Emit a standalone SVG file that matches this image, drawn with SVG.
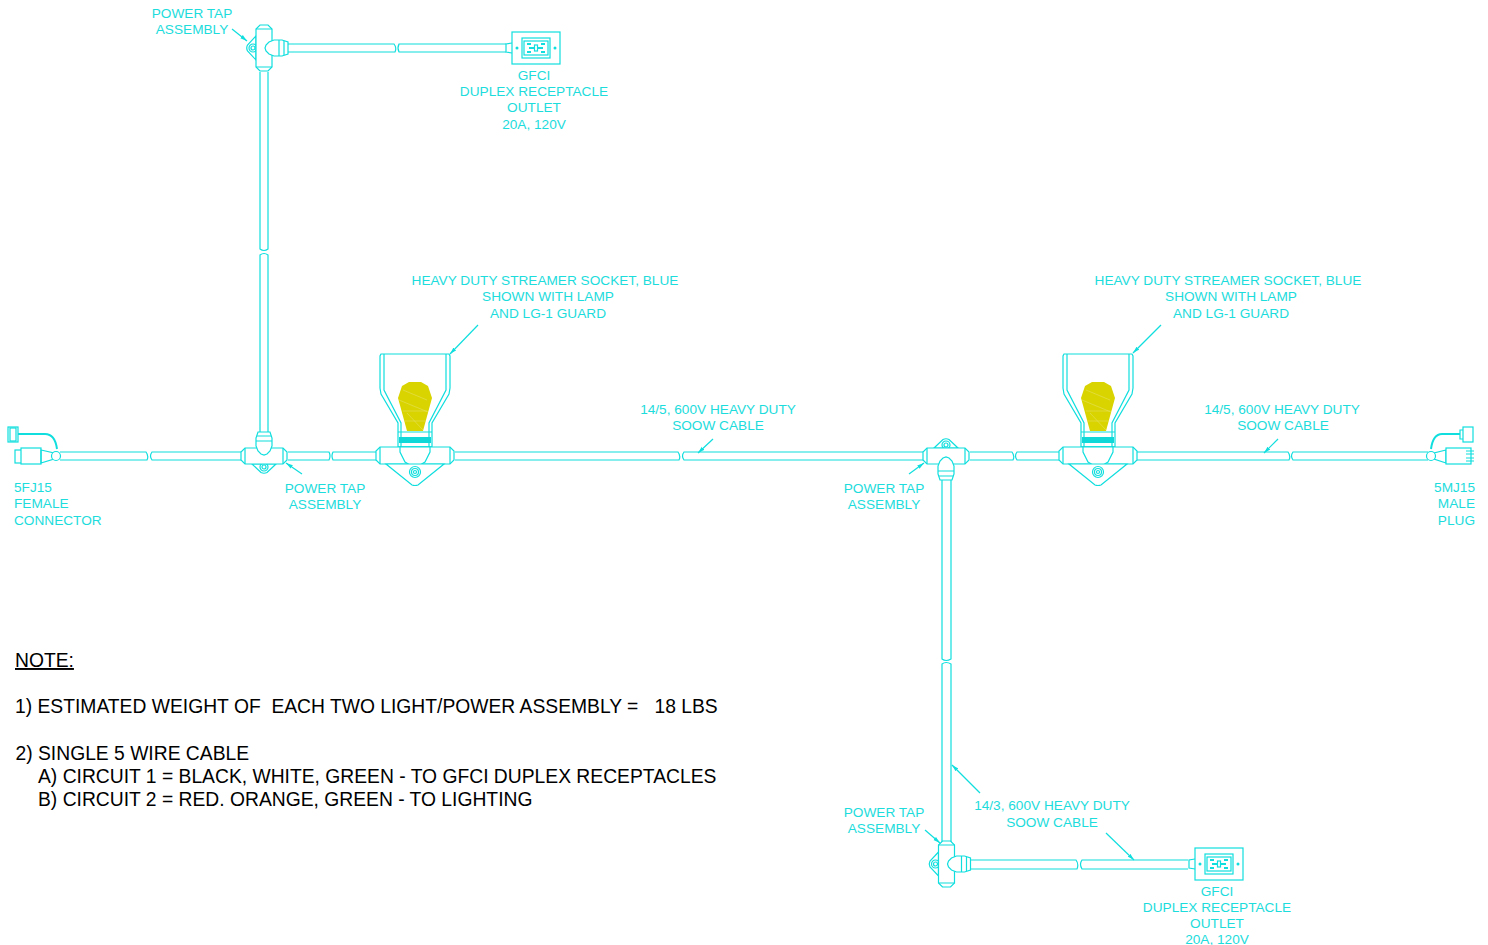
<svg xmlns="http://www.w3.org/2000/svg" width="1488" height="945" viewBox="0 0 1488 945">
<style>
.l{fill:none;stroke:#10dede;stroke-width:1.2}
.w{fill:#fff;stroke:#10dede;stroke-width:1.2}
.h{fill:none;stroke:#10dede;stroke-width:2}
.t{font-family:"Liberation Sans",Arial,sans-serif;font-size:13.65px;fill:#1cdcdc;text-anchor:middle}
.s{text-anchor:start}.e{text-anchor:end}
.n{font-family:"Liberation Sans",Arial,sans-serif;font-size:19.3px;fill:#000;white-space:pre}
</style>
<defs>
<marker id="a" markerWidth="8" markerHeight="6" refX="7" refY="3" orient="auto" markerUnits="userSpaceOnUse"><path d="M0 1L7 3L0 5z" fill="#10dede"/></marker>
<g id="tap">
<path class="w" d="M-12 8L-3 16.500Q0 18 3 16.500L12 8z"/>
<circle class="l" cx="0" cy="11" r="4"/><circle class="l" cx="0" cy="11" r="2"/>
<path class="w" d="M-19 -8H19L23 -4V4L19 8H-19L-23 4V-4z"/>
<path class="l" d="M-19 -8V8M19 -8V8"/>
<path class="w" d="M-6 -24H6L8 -18V-10L6 -5L3 -2L0 -1L-3 -2L-6 -5L-8 -10V-18z"/>
<path class="l" d="M-7 -20H7M-8 -15H8"/>
</g>
<g id="socket">
<path class="w" d="M-34 -102H34L35 -100V-68L34 -62L17 -33V-9H-17V-33L-34 -62L-35 -68V-100z"/>
<path class="l" d="M-31 -102V-66L-14 -33V-9M31 -102V-66L14 -33V-9"/>
<path d="M-6 -74L6 -74L13 -70L17 -58L8 -25H-8L-17 -58L-13 -70z" fill="#d9d400"/>
<path d="M-12 -66L12 -56M-16 -56L13 -44M-12 -45L12 -45M-11 -35L11 -35M-8 -43L8 -26" fill="none" stroke="#e6e270" stroke-width=".5"/>
<path class="l" d="M-17 -24H17M-17 -9H17"/>
<rect x="-16" y="-19" width="32" height="6" fill="#10d8d8"/>
<path class="w" d="M-35 -9H35L39 -5V4L35 8H-35L-39 4V-5z"/>
<path class="l" d="M-35 -9V8M35 -9V8"/>
<path class="w" d="M-15 -9H15V-4L10 6L0 12L-10 6L-15 -4z"/>
<path class="w" d="M-29 8H29L3 29Q0 30 -3 29z"/>
<circle class="l" cx="0" cy="16" r="5.500"/><circle class="l" cx="0" cy="16" r="3.500"/><circle class="l" cx="0" cy="16" r="1.500"/>
</g>
<g id="gfci">
<rect class="w" x="0" y="-16" width="48" height="32"/>
<path class="l" d="M0 -5L-6 -4V4L0 5"/>
<rect class="w" x="10" y="-10" width="28" height="20"/>
<rect class="l" x="12" y="-7" width="24" height="14"/>
<circle cx="5" cy="0" r="1.500" fill="#10dede"/><circle cx="43" cy="0" r="1.500" fill="#10dede"/>
<path class="h" d="M15 -4H19M15 4H19M29 -4H33M29 4H33M17 0H22M26 0H31"/>
<rect class="l" x="22.500" y="-3" width="3" height="6"/>
</g>
</defs>
<g id="connectors">
<path class="l" d="M60 452H146Q149 456 147 460H60M241 452H152Q149 456 152 460H241M288 452H329Q331 456 329 460H288M376 452H333Q331 456 333 460H376M455 452H678Q681 456 679 460H455M923 452H684Q681 456 684 460H923M970 452H1012Q1015 456 1013 460H970M1059 452H1017Q1014 456 1017 460H1059M1137 452H1288Q1291 456 1289 460H1137M1428 452H1293Q1290 456 1293 460H1428"/>
<path class="l" d="M260 432V255Q264 252 268 255V432M260 72V249Q264 252 268 249V72"/>
<path class="l" d="M288 44H394Q397 48 395 52H288M506 44H399Q397 48 399 52H506"/>
<path class="l" d="M942 480V659Q946 662 951 659V480M942 843V664Q946 661 951 664V843"/>
<path class="l" d="M971 860H1076Q1079 864 1077 869H971M1188 860H1082Q1079 864 1082 869H1188"/>
<path class="l" marker-end="url(#a)" d="M232 29L247 41"/>
<path class="l" marker-end="url(#a)" d="M478 325L450 354"/>
<path class="l" marker-end="url(#a)" d="M1161 325L1133 353"/>
<path class="l" marker-end="url(#a)" d="M302 474L286 463"/>
<path class="l" marker-end="url(#a)" d="M713 439L698 453"/>
<path class="l" marker-end="url(#a)" d="M1278 439L1264 453"/>
<path class="l" marker-end="url(#a)" d="M909 474L924 463"/>
<path class="l" marker-end="url(#a)" d="M925 830L940 843"/>
<path class="l" marker-end="url(#a)" d="M980 793L952 765"/>
<path class="l" marker-end="url(#a)" d="M1106 833L1134 860"/>
</g>
<g id="female-connector">
<rect class="w" x="8" y="427" width="10" height="15"/><rect class="l" x="10" y="428" width="6" height="13"/>
<path class="h" d="M18 434H45Q55 434 57 449"/>
<rect class="w" x="15" y="450" width="7" height="13"/>
<rect class="w" x="21" y="448" width="20" height="16"/>
<path class="l" d="M41 450L54 453V459L41 463z"/>
<circle class="w" cx="56" cy="456" r="4.500"/>
</g>
<g id="tap-1"><use href="#tap" x="264" y="456"/></g>
<g id="tap-2"><use href="#tap" transform="translate(946 456) scale(1 -1)"/></g>
<g id="tap-3"><use href="#tap" transform="translate(264 48) rotate(90)"/></g>
<g id="tap-4"><use href="#tap" transform="translate(946.500 864) rotate(90)"/></g>
<g id="socket-1"><use href="#socket" x="415" y="456"/></g>
<g id="socket-2"><use href="#socket" x="1098" y="456"/></g>
<g id="gfci-1"><use href="#gfci" x="512" y="48"/></g>
<g id="gfci-2"><use href="#gfci" x="1195" y="864"/></g>
<g id="male-plug">
<rect class="w" x="1463" y="427" width="10" height="15"/><path class="l" d="M1463 430H1460V439H1463"/>
<path class="h" d="M1460 434H1442Q1433 434 1431 449"/>
<path class="l" d="M1446 450L1434 453V459L1446 463z"/>
<circle class="w" cx="1431" cy="456" r="4.500"/>
<rect class="w" x="1446" y="448" width="25" height="16"/>
<path class="l" d="M1466 451H1474M1466 454H1474M1466 458H1474M1466 461H1474"/>
</g>
<g id="labels">
<text class="t" x="192" y="18">POWER TAP</text><text class="t" x="192" y="34">ASSEMBLY</text>
<text class="t" x="534" y="80">GFCI</text><text class="t" x="534" y="96">DUPLEX RECEPTACLE</text><text class="t" x="534" y="112">OUTLET</text><text class="t" x="534" y="129">20A, 120V</text>
<text class="t" x="545" y="285">HEAVY DUTY STREAMER SOCKET, BLUE</text><text class="t" x="548" y="301">SHOWN WITH LAMP</text><text class="t" x="548" y="318">AND LG-1 GUARD</text>
<text class="t" x="1228" y="285">HEAVY DUTY STREAMER SOCKET, BLUE</text><text class="t" x="1231" y="301">SHOWN WITH LAMP</text><text class="t" x="1231" y="318">AND LG-1 GUARD</text>
<text class="t" x="718" y="414">14/5, 600V HEAVY DUTY</text><text class="t" x="718" y="430">SOOW CABLE</text>
<text class="t" x="1282" y="414">14/5, 600V HEAVY DUTY</text><text class="t" x="1283" y="430">SOOW CABLE</text>
<text class="t s" x="14" y="492">5FJ15</text><text class="t s" x="14" y="508">FEMALE</text><text class="t s" x="14" y="525">CONNECTOR</text>
<text class="t" x="325" y="493">POWER TAP</text><text class="t" x="325" y="509">ASSEMBLY</text>
<text class="t" x="884" y="493">POWER TAP</text><text class="t" x="884" y="509">ASSEMBLY</text>
<text class="t e" x="1475" y="492">5MJ15</text><text class="t e" x="1475" y="508">MALE</text><text class="t e" x="1475" y="525">PLUG</text>
<text class="t" x="884" y="817">POWER TAP</text><text class="t" x="884" y="833">ASSEMBLY</text>
<text class="t" x="1052" y="810">14/3, 600V HEAVY DUTY</text><text class="t" x="1052" y="827">SOOW CABLE</text>
<text class="t" x="1217" y="896">GFCI</text><text class="t" x="1217" y="912">DUPLEX RECEPTACLE</text><text class="t" x="1217" y="928">OUTLET</text><text class="t" x="1217" y="944">20A, 120V</text>
</g>
<g id="notes">
<text class="n" x="15" y="667" text-decoration="underline">NOTE:</text>
<text class="n" x="15" y="713">1) ESTIMATED WEIGHT OF  EACH TWO LIGHT/POWER ASSEMBLY =   18 LBS</text>
<text class="n" x="15.500" y="760">2) SINGLE 5 WIRE CABLE</text>
<text class="n" x="38" y="783">A) CIRCUIT 1 = BLACK, WHITE, GREEN - TO GFCI DUPLEX RECEPTACLES</text>
<text class="n" x="38" y="806">B) CIRCUIT 2 = RED. ORANGE, GREEN - TO LIGHTING</text>
</g>
</svg>
